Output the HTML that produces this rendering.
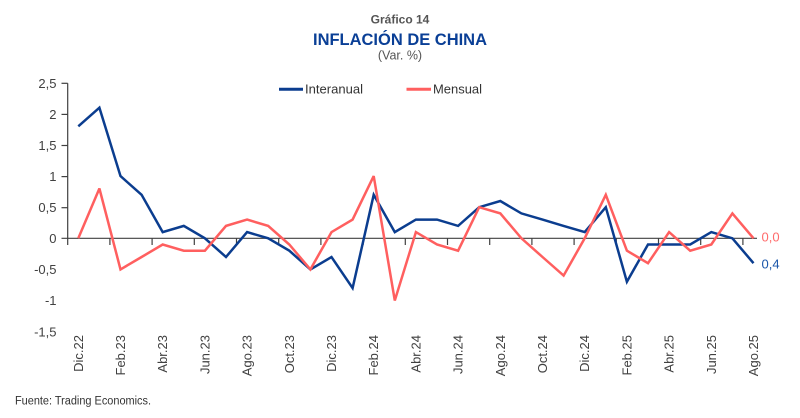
<!DOCTYPE html>
<html>
<head>
<meta charset="utf-8">
<style>
  html,body{margin:0;padding:0;background:#fff;}
  svg{display:block;font-family:"Liberation Sans",sans-serif;}
</style>
</head>
<body>
<svg width="800" height="418" viewBox="0 0 800 418" xmlns="http://www.w3.org/2000/svg">
  <!-- Titles -->
  <text x="400" y="23.5" text-anchor="middle" font-size="12" font-weight="bold" fill="#555">Gráfico 14</text>
  <text x="400" y="45" text-anchor="middle" font-size="17" font-weight="bold" fill="#0a3f96" textLength="174" lengthAdjust="spacingAndGlyphs">INFLACIÓN DE CHINA</text>
  <text x="400" y="59.5" text-anchor="middle" font-size="12.5" fill="#555">(Var. %)</text>

  <!-- Legend -->
  <line x1="279" y1="89.3" x2="303" y2="89.3" stroke="#0b3d8f" stroke-width="3"/>
  <text x="305" y="93.5" font-size="13" fill="#333" textLength="58" lengthAdjust="spacingAndGlyphs">Interanual</text>
  <line x1="406.5" y1="89.3" x2="431" y2="89.3" stroke="#ff5f5f" stroke-width="3"/>
  <text x="433" y="93.5" font-size="13" fill="#333" textLength="49" lengthAdjust="spacingAndGlyphs">Mensual</text>

  <!-- Y axis -->
  <g stroke="#404040" stroke-width="1.2">
    <line x1="67.7" y1="83.3" x2="67.7" y2="245"/>
    <line x1="61.5" y1="83.3" x2="67.7" y2="83.3"/>
    <line x1="61.5" y1="114.4" x2="67.7" y2="114.4"/>
    <line x1="61.5" y1="145.5" x2="67.7" y2="145.5"/>
    <line x1="61.5" y1="176.6" x2="67.7" y2="176.6"/>
    <line x1="61.5" y1="207.7" x2="67.7" y2="207.7"/>
    <line x1="61.5" y1="238.3" x2="757" y2="238.3"/>
    <!-- x ticks -->
    <line x1="109.9" y1="238.3" x2="109.9" y2="245"/>
    <line x1="152.1" y1="238.3" x2="152.1" y2="245"/>
    <line x1="194.3" y1="238.3" x2="194.3" y2="245"/>
    <line x1="236.5" y1="238.3" x2="236.5" y2="245"/>
    <line x1="278.7" y1="238.3" x2="278.7" y2="245"/>
    <line x1="320.9" y1="238.3" x2="320.9" y2="245"/>
    <line x1="363.1" y1="238.3" x2="363.1" y2="245"/>
    <line x1="405.3" y1="238.3" x2="405.3" y2="245"/>
    <line x1="447.5" y1="238.3" x2="447.5" y2="245"/>
    <line x1="489.7" y1="238.3" x2="489.7" y2="245"/>
    <line x1="531.9" y1="238.3" x2="531.9" y2="245"/>
    <line x1="574.1" y1="238.3" x2="574.1" y2="245"/>
    <line x1="616.3" y1="238.3" x2="616.3" y2="245"/>
    <line x1="658.5" y1="238.3" x2="658.5" y2="245"/>
    <line x1="700.7" y1="238.3" x2="700.7" y2="245"/>
    <line x1="742.9" y1="238.3" x2="742.9" y2="245"/>
  </g>

  <!-- Y labels -->
  <g font-size="13" fill="#404040" text-anchor="end">
    <text x="56.5" y="88">2,5</text>
    <text x="56.5" y="119">2</text>
    <text x="56.5" y="150">1,5</text>
    <text x="56.5" y="181">1</text>
    <text x="56.5" y="212">0,5</text>
    <text x="56.5" y="243">0</text>
    <text x="56.5" y="274">-0,5</text>
    <text x="56.5" y="305">-1</text>
    <text x="56.5" y="336.5">-1,5</text>
  </g>

  <!-- X labels -->
  <g font-size="13" fill="#404040" text-anchor="end">
    <text transform="translate(82.8,335) rotate(-90)">Dic.22</text>
    <text transform="translate(125,335) rotate(-90)">Feb.23</text>
    <text transform="translate(167.2,335) rotate(-90)">Abr.23</text>
    <text transform="translate(209.4,335) rotate(-90)">Jun.23</text>
    <text transform="translate(251.6,335) rotate(-90)">Ago.23</text>
    <text transform="translate(293.8,335) rotate(-90)">Oct.23</text>
    <text transform="translate(336,335) rotate(-90)">Dic.23</text>
    <text transform="translate(378.2,335) rotate(-90)">Feb.24</text>
    <text transform="translate(420.4,335) rotate(-90)">Abr.24</text>
    <text transform="translate(462.6,335) rotate(-90)">Jun.24</text>
    <text transform="translate(504.8,335) rotate(-90)">Ago.24</text>
    <text transform="translate(547,335) rotate(-90)">Oct.24</text>
    <text transform="translate(589.2,335) rotate(-90)">Dic.24</text>
    <text transform="translate(631.4,335) rotate(-90)">Feb.25</text>
    <text transform="translate(673.6,335) rotate(-90)">Abr.25</text>
    <text transform="translate(715.8,335) rotate(-90)">Jun.25</text>
    <text transform="translate(758,335) rotate(-90)">Ago.25</text>
  </g>

  <!-- Interanual -->
  <polyline fill="none" stroke="#0b3d8f" stroke-width="2.5" stroke-linejoin="miter" stroke-miterlimit="3"
    points="78.3,126.3 99.4,107.7 120.5,176.1 141.6,194.8 162.7,232.1 183.8,225.9 204.9,238.3 226.0,257.0 247.1,232.1 268.2,238.3 289.3,250.7 310.4,269.4 331.5,257.0 352.6,288.1 373.7,194.8 394.8,232.1 415.9,219.6 437.0,219.6 458.1,225.9 479.2,207.2 500.3,201.0 521.4,213.4 542.5,219.6 563.6,225.9 584.7,232.1 605.8,207.2 626.9,281.8 648.0,244.5 669.1,244.5 690.2,244.5 711.3,232.1 732.4,238.3 753.5,263.2"/>

  <!-- Mensual -->
  <polyline fill="none" stroke="#ff5f5f" stroke-width="2.5" stroke-linejoin="miter" stroke-miterlimit="3"
    points="78.3,238.3 99.4,188.5 120.5,269.4 141.6,257.0 162.7,244.5 183.8,250.7 204.9,250.7 226.0,225.9 247.1,219.6 268.2,225.9 289.3,244.5 310.4,269.4 331.5,232.1 352.6,219.6 373.7,176.1 394.8,300.5 415.9,232.1 437.0,244.5 458.1,250.7 479.2,207.2 500.3,213.4 521.4,238.3 542.5,257.0 563.6,275.6 584.7,238.3 605.8,194.8 626.9,250.7 648.0,263.2 669.1,232.1 690.2,250.7 711.3,244.5 732.4,213.4 753.5,238.3"/>

  <!-- End labels -->
  <text x="761.5" y="241.5" font-size="13" fill="#ff6b6b">0,0</text>
  <text x="761.5" y="268.5" font-size="13" fill="#1a56aa">0,4</text>

  <!-- Footer -->
  <text x="15" y="404.5" font-size="11.5" fill="#333" textLength="136" lengthAdjust="spacingAndGlyphs">Fuente: Trading Economics.</text>
</svg>
</body>
</html>
